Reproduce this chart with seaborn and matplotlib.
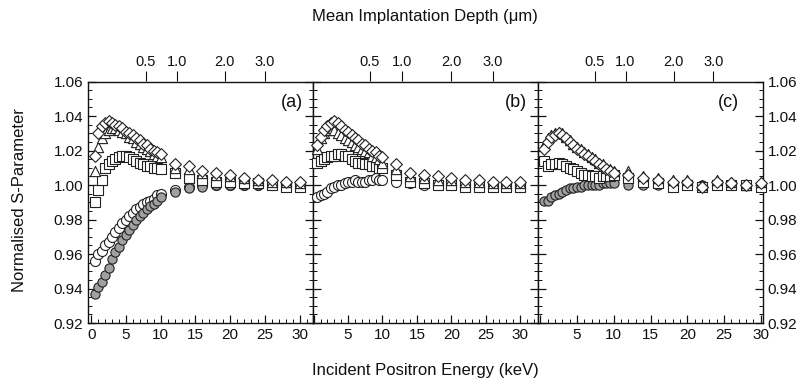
import numpy as np
import pandas as pd
import matplotlib
matplotlib.use("Agg")
import matplotlib.pyplot as plt
import seaborn as sns
from matplotlib.ticker import MultipleLocator, NullLocator

# incident positron energies (keV)
energy = [0.5, 1.0, 1.5, 2.0, 2.5, 3.0, 3.5, 4.0, 4.5, 5.0,
          5.5, 6.0, 6.5, 7.0, 7.5, 8.0, 8.5, 9.0, 9.5, 10.0,
          12, 14, 16, 18, 20, 22, 24, 26, 28, 30]

# panel (a)
a_diamond = [1.017, 1.030, 1.034, 1.036, 1.037, 1.036, 1.035, 1.034, 1.033, 1.031,
             1.030, 1.029, 1.027, 1.026, 1.024, 1.023, 1.021, 1.020, 1.019, 1.018,
             1.012, 1.011, 1.008, 1.007, 1.006, 1.004, 1.003, 1.003, 1.002, 1.002]
a_triangle = [1.008, 1.022, 1.027, 1.030, 1.032, 1.033, 1.033, 1.032, 1.031, 1.030,
              1.028, 1.027, 1.025, 1.024, 1.022, 1.021, 1.020, 1.018, 1.017, 1.016,
              1.010, 1.009, 1.007, 1.006, 1.005, 1.004, 1.003, 1.002, 1.002, 1.001]
a_square = [0.990, 0.997, 1.003, 1.010, 1.012, 1.014, 1.015, 1.016, 1.017, 1.017,
            1.016, 1.015, 1.014, 1.013, 1.012, 1.011, 1.011, 1.010, 1.010, 1.009,
            1.007, 1.004, 1.003, 1.002, 1.002, 1.001, 1.001, 1.000, 0.999, 0.999]
a_circle = [0.956, 0.960, 0.962, 0.965, 0.967, 0.970, 0.973, 0.975, 0.978, 0.980,
            0.982, 0.984, 0.986, 0.987, 0.989, 0.990, 0.991, 0.992, 0.994, 0.995,
            0.997, 0.999, 1.000, 1.000, 1.000, 1.000, 1.000, 1.000, 1.000, 1.000]
a_filled = [0.937, 0.941, 0.944, 0.948, 0.952, 0.957, 0.961, 0.964, 0.968, 0.971,
            0.974, 0.977, 0.980, 0.982, 0.984, 0.986, 0.988, 0.989, 0.991, 0.993,
            0.996, 0.998, 0.999, 1.000, 1.000, 1.000, 1.000, 1.000, 1.000, 1.000]

# panel (b)
b_diamond = [1.023, 1.028, 1.032, 1.034, 1.036, 1.037, 1.036, 1.034, 1.032, 1.031,
             1.029, 1.027, 1.026, 1.024, 1.023, 1.021, 1.020, 1.019, 1.017, 1.016,
             1.012, 1.007, 1.006, 1.005, 1.004, 1.003, 1.003, 1.002, 1.002, 1.002]
b_triangle = [1.021, 1.027, 1.030, 1.032, 1.033, 1.032, 1.030, 1.029, 1.027, 1.026,
              1.025, 1.023, 1.022, 1.021, 1.020, 1.019, 1.017, 1.016, 1.015, 1.013,
              1.009, 1.005, 1.004, 1.003, 1.003, 1.002, 1.002, 1.001, 1.001, 1.001]
b_square = [1.013, 1.014, 1.015, 1.016, 1.017, 1.017, 1.018, 1.018, 1.017, 1.017,
            1.015, 1.014, 1.013, 1.013, 1.012, 1.012, 1.011, 1.011, 1.010, 1.010,
            1.006, 1.002, 1.001, 1.000, 1.000, 0.999, 0.999, 0.999, 0.999, 0.999]
b_circle = [0.993, 0.994, 0.995, 0.996, 0.998, 0.999, 1.000, 1.000, 1.001, 1.002,
            1.002, 1.003, 1.002, 1.002, 1.002, 1.003, 1.003, 1.004, 1.003, 1.003,
            1.002, 1.001, 1.000, 1.000, 1.000, 1.000, 0.999, 0.999, 0.999, 0.999]

# panel (c)
c_diamond = [1.021, 1.025, 1.028, 1.029, 1.030, 1.029, 1.027, 1.025, 1.023, 1.021,
             1.020, 1.018, 1.017, 1.015, 1.014, 1.012, 1.011, 1.009, 1.008, 1.007,
             1.006, 1.004, 1.003, 1.002, 1.002, 0.999, 1.002, 1.001, 1.000, 1.001]
c_triangle = [1.023, 1.027, 1.029, 1.030, 1.031, 1.030, 1.028, 1.026, 1.024, 1.022,
              1.021, 1.019, 1.018, 1.016, 1.015, 1.013, 1.012, 1.010, 1.009, 1.008,
              1.008, 1.005, 1.004, 1.003, 1.003, 1.000, 1.003, 1.002, 1.000, 1.002]
c_square = [1.014, 1.011, 1.012, 1.012, 1.013, 1.012, 1.011, 1.010, 1.009, 1.008,
            1.007, 1.006, 1.006, 1.005, 1.005, 1.004, 1.005, 1.005, 1.005, 1.006,
            1.004, 1.002, 1.001, 0.999, 1.000, 0.999, 1.000, 1.000, 1.000, 0.999]
c_filled = [0.991, 0.991, 0.993, 0.994, 0.995, 0.996, 0.997, 0.998, 0.998, 0.999,
            0.999, 1.000, 1.000, 1.000, 1.000, 1.000, 1.001, 1.001, 1.001, 1.001,
            1.000, 1.000, 1.000, 1.000, 1.000, 1.000, 1.000, 1.000, 1.000, 1.000]

panels = ["a", "b", "c"]
panel_series = {
    "a": {"circle": a_circle, "filled": a_filled, "square": a_square,
          "triangle": a_triangle, "diamond": a_diamond},
    "b": {"circle": b_circle, "square": b_square,
          "triangle": b_triangle, "diamond": b_diamond},
    "c": {"filled": c_filled, "square": c_square,
          "triangle": c_triangle, "diamond": c_diamond},
}

# top axis: mean implantation depth ticks (um) and energy giving 1 um per panel
depth_ticks = [0.5, 1.0, 2.0, 3.0]
e_at_1um = {"a": 12.3, "b": 12.8, "c": 11.6}
makhov_n = 1.55

rows = []
for p in panels:
    for name, vals in panel_series[p].items():
        for e, s in zip(energy, vals):
            rows.append({"panel": p, "series": name, "energy": e, "S": s})
df = pd.DataFrame(rows)

styles = {
    "circle": dict(marker="o", s=52, color="white"),
    "filled": dict(marker="o", s=44, color="#a0a0a0"),
    "square": dict(marker="s", s=44, color="white"),
    "triangle": dict(marker="^", s=54, color="white"),
    "diamond": dict(marker="D", s=36, color="white"),
}

sns.set_theme(style="ticks")
plt.rcParams["font.family"] = ["Liberation Sans", "DejaVu Sans"]
plt.rcParams["axes.linewidth"] = 1.0

fig = plt.figure(figsize=(8.09, 3.88), dpi=100)
xlims = {"a": (-0.45, 31.9), "b": (-0.1, 32.6), "c": (-0.3, 30.3)}
lefts = {"a": 88, "b": 313, "c": 538}
W, H = 809, 388
top_px, bot_px = 81.5, 323

for p in panels:
    ax = fig.add_axes([lefts[p] / W, 1 - bot_px / H, 225 / W, (bot_px - top_px) / H])
    sub = df[df["panel"] == p]
    for name in panel_series[p]:
        st = styles[name]
        sns.scatterplot(data=sub[sub["series"] == name], x="energy", y="S",
                        marker=st["marker"], s=st["s"], color=st["color"],
                        edgecolor="#222222", linewidth=0.8, ax=ax, zorder=3,
                        clip_on=False, legend=False)
    ax.set_xlim(*xlims[p])
    ax.set_ylim(0.92, 1.06)
    ax.set_xlabel("")
    ax.set_ylabel("")
    ax.set_xticks([0, 5, 10, 15, 20, 25, 30])
    if p == "a":
        ax.set_xticklabels(["0", "5", "10", "15", "20", "25", "30"])
    else:
        ax.set_xticklabels(["", "5", "10", "15", "20", "25", "30"])
    ax.set_yticks([0.92, 0.94, 0.96, 0.98, 1.00, 1.02, 1.04, 1.06])
    ax.xaxis.set_minor_locator(MultipleLocator(1))
    ax.yaxis.set_minor_locator(MultipleLocator(0.005))
    ax.tick_params(which="both", direction="in", top=False, bottom=True,
                   left=True, right=True, labelsize=11, colors="#111111")
    ax.tick_params(which="major", length=6, width=0.9)
    ax.tick_params(which="minor", length=3, width=0.7)
    ax.tick_params(axis="y", labelleft=(p == "a"), labelright=(p == "c"))
    for sp in ax.spines.values():
        sp.set_color("#111111")

    e1 = e_at_1um[p]

    def fwd(e, e1=e1):
        e = np.asarray(e, dtype=float)
        return np.sign(e) * (np.abs(e) / e1) ** makhov_n

    def inv(z, e1=e1):
        z = np.asarray(z, dtype=float)
        return np.sign(z) * e1 * np.abs(z) ** (1 / makhov_n)

    sec = ax.secondary_xaxis("top", functions=(fwd, inv))
    sec.set_xticks(depth_ticks)
    sec.set_xticklabels(["0.5", "1.0", "2.0", "3.0"])
    sec.xaxis.set_minor_locator(NullLocator())
    sec.tick_params(direction="out", length=7, width=0.8, labelsize=10.5, pad=2,
                    colors="#111111")
    sec.spines["top"].set_visible(False)

    label_x = {"a": 0.905, "b": 0.9, "c": 0.845}[p]
    ax.text(label_x, 0.915, f"({p})", transform=ax.transAxes, fontsize=13,
            ha="center", va="center", color="#111111")

fig.text(425 / W, 1 - 16 / H, "Mean Implantation Depth (\u03bcm)", ha="center",
         va="center", fontsize=12, color="#111111")
fig.text(425 / W, 1 - 371 / H, "Incident Positron Energy (keV)", ha="center",
         va="center", fontsize=12, color="#111111")
fig.text(20 / W, 1 - 200 / H, "Normalised S-Parameter", ha="center", va="center",
         rotation=90, fontsize=12, color="#111111")

fig.savefig("out.png", dpi=100)
